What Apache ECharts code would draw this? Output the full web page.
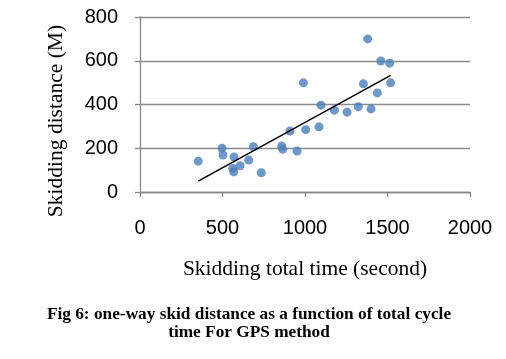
<!DOCTYPE html>
<html>
<head>
<meta charset="utf-8">
<script src="https://cdn.jsdelivr.net/npm/echarts@6/dist/echarts.min.js"></script>
<style>
html,body{margin:0;padding:0;background:#fff;}
#chart{width:506px;height:359px;}
</style>
</head>
<body>
<div id="chart"></div>
<script>
// Skidding total time (second)
const timeValues = [353, 497, 503, 570, 562, 568, 606, 659, 687, 735, 859, 865, 909, 952, 990, 1004, 1085, 1097, 1178, 1255, 1323, 1354, 1380, 1400, 1438, 1459, 1513, 1519];
// Skidding distance (M)
const distanceValues = [141, 200, 169, 160, 108, 92, 120, 146, 207, 88, 210, 196, 279, 187, 499, 285, 298, 397, 374, 365, 390, 495, 700, 380, 453, 599, 589, 499];
// Linear trend line end points
const trendX = [353, 1519];
const trendY = [50, 533];
const xTicks = [0, 500, 1000, 1500, 2000];
const yTicks = [0, 200, 400, 600, 800];
const xTitle = 'Skidding total time (second)';
const yTitle = 'Skidding distance (M)';
const captionLines = ['Fig 6: one-way skid distance as a function of total cycle', 'time For GPS method'];

const points = timeValues.map((t, i) => [t, distanceValues[i]]);
const trend = trendX.map((t, i) => [t, trendY[i]]);

const chart = echarts.init(document.getElementById('chart'), null, {renderer: 'canvas'});
chart.setOption({
  animation: false,
  backgroundColor: '#ffffff',
  grid: {left: 140, right: 36, top: 17, bottom: 167, containLabel: false},
  xAxis: {
    type: 'value',
    min: xTicks[0], max: xTicks[xTicks.length - 1], interval: 500,
    axisLine: {show: true, lineStyle: {color: '#878787', width: 1.3}},
    axisTick: {show: true, length: 5, lineStyle: {color: '#878787', width: 1.3}},
    splitLine: {show: false},
    axisLabel: {color: '#000', fontFamily: 'Liberation Sans', fontSize: 20, margin: 26,
      formatter: v => String(v)}
  },
  yAxis: {
    type: 'value',
    min: yTicks[0], max: yTicks[yTicks.length - 1], interval: 200,
    axisLine: {show: true, lineStyle: {color: '#878787', width: 1.3}},
    axisTick: {show: true, length: 5, lineStyle: {color: '#878787', width: 1.3}},
    splitLine: {show: true, lineStyle: {color: '#8c8c8c', width: 1.3}},
    axisLabel: {color: '#000', fontFamily: 'Liberation Sans', fontSize: 20, margin: 22,
      formatter: v => String(v)}
  },
  series: [
    {
      type: 'scatter',
      data: points,
      symbol: 'circle',
      symbolSize: 9,
      itemStyle: {color: '#4a7ebb'},
      z: 3
    },
    {
      type: 'line',
      data: trend,
      symbol: 'none',
      lineStyle: {color: '#000', width: 1.5},
      z: 4
    }
  ],
  graphic: [
    {
      type: 'text', x: 305, y: 269,
      style: {text: xTitle, font: '21.5px "Liberation Serif"', fill: '#000', textAlign: 'center', textVerticalAlign: 'middle'}
    },
    {
      type: 'text',
      x: 56, y: 121, rotation: Math.PI / 2,
      style: {text: yTitle, font: '21.5px "Liberation Serif"', fill: '#000', textAlign: 'center', textVerticalAlign: 'middle'}
    },
    {
      type: 'text', x: 249, y: 315,
      style: {text: captionLines[0], font: 'bold 17.3px "Liberation Serif"', fill: '#000', textAlign: 'center', textVerticalAlign: 'middle'}
    },
    {
      type: 'text', x: 249, y: 333,
      style: {text: captionLines[1], font: 'bold 17.3px "Liberation Serif"', fill: '#000', textAlign: 'center', textVerticalAlign: 'middle'}
    }
  ]
});
</script>
</body>
</html>
